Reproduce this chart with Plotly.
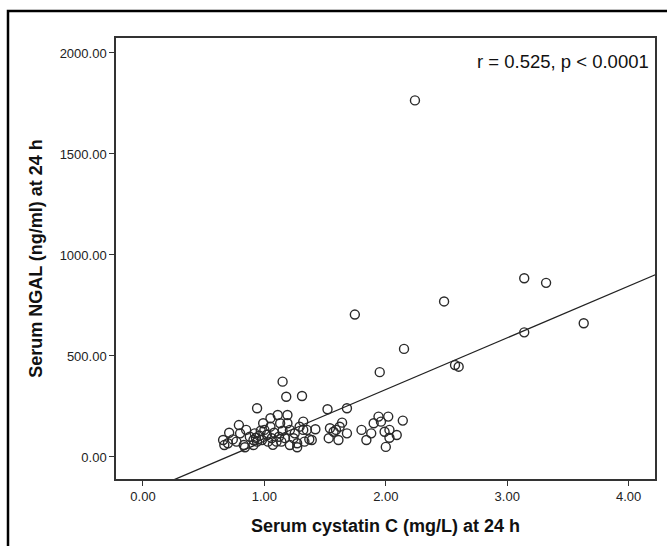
import plotly.graph_objects as go

# Serum cystatin C (mg/L) at 24 h
cystatin = [
    2.24, 1.745, 2.48, 3.14, 3.32, 3.63, 3.14, 2.15, 1.95, 2.57, 2.60,
    1.15, 1.18, 1.31, 0.94, 1.52, 1.68,
    0.79, 0.71, 0.66, 0.74, 0.80, 0.85, 0.88, 0.92, 0.94, 0.99, 1.00, 1.05,
    1.05, 1.11, 1.13, 1.19, 1.19, 1.21, 1.25, 1.29, 1.32, 1.35, 1.42, 1.39,
    1.33, 1.27, 1.24, 1.17, 1.10, 1.03, 0.98, 0.91, 0.83, 0.77, 0.70, 0.67,
    0.84, 0.91, 1.06, 1.14, 1.21, 1.27, 1.37, 1.32,
    0.96, 1.02, 1.08, 0.93, 1.07, 1.15, 1.12, 0.97,
    1.54, 1.59, 1.64, 1.68, 1.53, 1.61, 1.57, 1.62,
    1.80, 1.84, 1.88, 1.90, 1.94, 1.96, 2.02, 1.99, 2.03, 2.00, 2.09, 2.14, 2.03,
]
# Serum NGAL (ng/ml) at 24 h
ngal = [
    1765, 705, 770, 885, 862, 662, 617, 535, 420, 455, 447,
    373, 298, 302, 241, 236, 241,
    158, 120, 84, 87, 117, 134, 100, 117, 76, 167, 134, 192,
    150, 208, 167, 208, 167, 134, 117, 150, 175, 134, 137, 84,
    76, 68, 93, 93, 76, 76, 84, 59, 59, 76, 68, 59,
    48, 84, 93, 76, 59, 48, 88, 134,
    105, 110, 120, 95, 60, 130, 100, 130,
    142, 134, 170, 117, 93, 84, 125, 150,
    134, 84, 117, 167, 200, 175, 200, 125, 134, 50, 109, 180, 95,
]

# Linear fit line
fit_intercept = -178
fit_slope = 256
fit_x = [-0.3, 4.3]
fit_y = [fit_intercept + fit_slope * v for v in fit_x]

x_ticks = [0, 1, 2, 3, 4]
y_ticks = [0, 500, 1000, 1500, 2000]
annotation_text = "r = 0.525, p < 0.0001"

FONT = "Liberation Sans, Arial, sans-serif"

fig = go.Figure()
fig.add_trace(go.Scatter(
    x=fit_x, y=fit_y, mode="lines",
    line=dict(color="#222222", width=1.3),
    hoverinfo="skip", showlegend=False,
))
fig.add_trace(go.Scatter(
    x=cystatin, y=ngal, mode="markers",
    marker=dict(symbol="circle-open", size=9, color="#2a2a2a",
                line=dict(width=1.4, color="#2a2a2a")),
    showlegend=False,
))

L, R, T, B = 116, 12, 38, 67
W, H = 667, 546
pw, ph = W - L - R, H - T - B

axis_common = dict(
    showline=True, linecolor="#333333", linewidth=1.5, mirror=True,
    ticks="outside", ticklen=5, tickwidth=1.3, tickcolor="#333333",
    showgrid=False, zeroline=False, tickformat=".2f", automargin=False,
    tickfont=dict(family=FONT, size=13, color="#222222"),
)

fig.update_layout(
    width=W, height=H,
    margin=dict(l=L, r=R, t=T, b=B, pad=0),
    paper_bgcolor="white", plot_bgcolor="white",
    xaxis=dict(range=[-0.222, 4.217], tickvals=x_ticks, **axis_common,
               title=dict(text="<b>Serum cystatin C (mg/L) at 24 h</b>", standoff=16,
                          font=dict(family=FONT, size=18, color="#111111"))),
    yaxis=dict(range=[-109, 2074], tickvals=y_ticks, **axis_common,
               title=dict(text="<b>Serum NGAL (ng/ml) at 24 h</b>", standoff=12,
                          font=dict(family=FONT, size=18, color="#111111"))),
    annotations=[dict(
        text=annotation_text, xref="paper", yref="paper",
        x=(651 - L) / pw, y=1 - (62 - T) / ph, xanchor="right", yanchor="middle",
        showarrow=False,
        font=dict(family=FONT, size=18.5, color="#111111"),
    )],
    shapes=[dict(
        type="rect", xref="paper", yref="paper",
        x0=(8 - L) / pw, x1=1.2, y0=-0.3, y1=1 + (T - 11) / ph,
        line=dict(color="black", width=2.5),
    )],
)

fig.write_html(
    "out.html",
    config={"displayModeBar": False},
    post_script="document.body.style.margin='0';document.body.style.overflow='hidden';",
)
